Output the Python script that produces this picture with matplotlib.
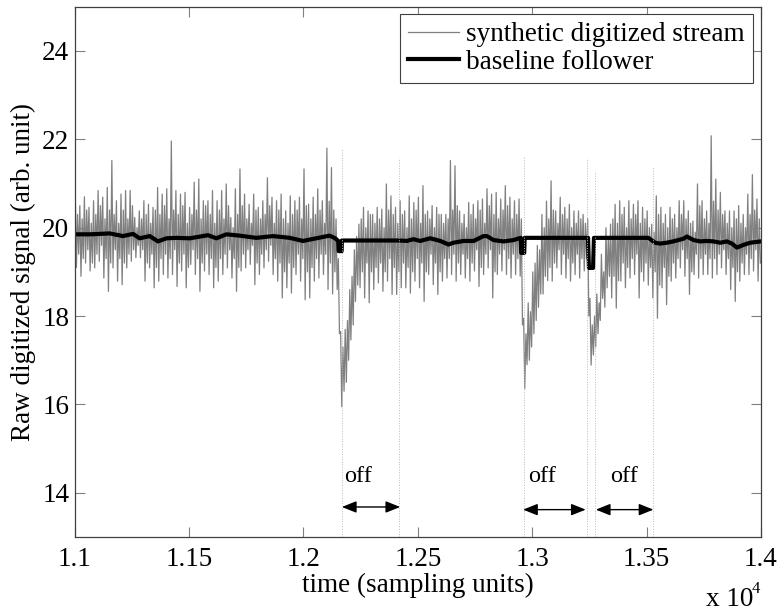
import matplotlib
matplotlib.use('Agg')
import matplotlib.pyplot as plt
import numpy as np

# sampled stream, read per 20-sample block from t=11000:
# block extremes (hi, lo) and the next-largest swings (hi2, lo2)
bin_start = 11000
bin_width = 20
stream_hi = [20.8, 20.5, 20.7, 20.46, 20.61, 20.84, 20.69, 20.91, 21.52, 20.61,
             20.76, 20.84, 20.84, 20.23, 20.38, 20.61, 20.53, 20.46, 20.91, 20.76,
             20.88, 21.96, 20.84, 20.76, 20.8, 20.46, 21.03, 21.1, 20.61, 20.61,
             20.84, 20.61, 20.84, 20.99, 20.23, 20.88, 21.33, 20.76, 20.53, 20.76,
             20.46, 20.61, 21.13, 20.69, 20.61, 20.76, 20.38, 20.72, 20.61, 20.69,
             21.33, 20.53, 20.69, 20.88, 20.61, 21.8, 21.36, 20.2, 17.65, 17.7,
             18.6, 19.5, 20.08, 20.46, 20.38, 20.3, 20.46, 20.42, 20.99, 20.72,
             20.46, 20.61, 20.38, 20.72, 20.57, 20.69, 20.95, 20.38, 20.5, 20.46,
             20.3, 20.3, 21.52, 21.4, 20.38, 20.3, 20.57, 20.53, 20.61, 20.65,
             20.88, 20.76, 20.8, 20.65, 20.95, 20.69, 20.61, 20.65, 17.95, 18.3,
             19.0, 19.6, 20.3, 20.6, 21.06, 20.38, 20.69, 20.46, 20.53, 20.38,
             20.38, 20.3, 20.2, 17.8, 18.5, 19.4, 20.0, 20.08, 20.53, 20.61,
             20.46, 20.61, 20.53, 20.61, 20.46, 20.38, 20.08, 20.72, 20.46, 20.3,
             20.46, 20.3, 20.61, 20.61, 20.38, 20.15, 20.99, 20.61, 20.38, 22.08,
             21.1, 20.8, 20.38, 20.38, 20.38, 20.5, 20.3, 20.76, 21.2, 20.65]
stream_lo = [19.1, 18.9, 19.2, 19.02, 19.09, 19.24, 18.86, 18.56, 19.09, 18.79,
             18.71, 19.09, 19.24, 19.32, 19.32, 18.79, 19.09, 18.64, 18.79, 18.94,
             18.86, 18.94, 18.67, 19.02, 18.64, 19.17, 18.94, 18.56, 19.02, 18.94,
             18.64, 18.79, 18.94, 19.09, 18.86, 18.56, 19.02, 19.09, 19.17, 18.71,
             18.94, 19.09, 19.24, 18.94, 18.79, 18.41, 18.64, 18.52, 18.94, 18.79,
             18.37, 18.41, 18.79, 18.86, 18.94, 18.6, 18.5, 18.6, 15.95, 16.5,
             17.46, 18.33, 18.64, 18.41, 18.3, 18.6, 18.75, 18.56, 18.79, 18.49,
             18.49, 18.64, 18.64, 18.52, 18.79, 18.64, 18.33, 18.94, 18.71, 18.49,
             18.79, 18.86, 18.94, 18.79, 18.94, 18.86, 18.79, 19.02, 18.67, 18.94,
             19.09, 18.41, 18.94, 19.02, 18.94, 18.86, 18.94, 18.9, 16.36, 17.0,
             17.6, 18.2, 18.5, 18.8, 18.79, 19.09, 18.94, 18.86, 18.79, 18.94,
             18.86, 19.02, 18.0, 17.12, 17.6, 18.4, 18.64, 18.41, 18.18, 18.79,
             18.64, 18.86, 18.94, 18.41, 18.79, 18.7, 18.41, 17.95, 18.64, 18.26,
             18.79, 18.86, 19.09, 18.9, 18.49, 18.94, 18.86, 18.94, 18.94, 18.86,
             18.94, 19.09, 18.94, 18.6, 18.33, 18.79, 18.94, 18.94, 19.02, 18.79]
stream_hi2 = [20.3, 20.2, 20.4, 20.1, 20.3, 20.5, 20.2, 20.4, 20.3, 20.1,
              20.4, 20.2, 20.5, 20.0, 20.2, 20.3, 20.1, 20.4, 20.3, 20.5,
              20.2, 20.4, 20.3, 20.5, 20.1, 20.3, 20.4, 20.2, 20.5, 20.3,
              20.1, 20.4, 20.2, 20.5, 20.0, 20.3, 20.5, 20.2, 20.1, 20.4,
              20.2, 20.3, 20.5, 20.1, 20.4, 20.2, 20.1, 20.3, 20.4, 20.2,
              20.5, 20.2, 20.3, 20.4, 20.1, 20.6, 20.4, 19.3, 17.3, 17.9,
              18.9, 19.8, 20.2, 20.0, 20.3, 20.1, 20.2, 20.0, 20.4, 20.3,
              20.1, 20.3, 20.0, 20.2, 20.4, 20.1, 20.3, 20.2, 20.0, 20.3,
              20.1, 20.2, 20.4, 20.5, 20.1, 20.0, 20.3, 20.2, 20.4, 20.1,
              20.5, 20.3, 20.2, 20.4, 20.5, 20.2, 20.3, 20.2, 17.6, 18.1,
              19.2, 19.5, 20.0, 20.2, 20.4, 20.1, 20.3, 20.2, 20.0, 20.1,
              20.2, 20.1, 18.4, 18.0, 18.3, 19.0, 19.8, 20.2, 20.1, 20.3,
              20.0, 20.2, 20.3, 20.1, 20.2, 20.0, 19.9, 20.3, 20.1, 20.0,
              20.2, 20.0, 20.3, 20.2, 20.1, 19.9, 20.5, 20.2, 20.1, 20.6,
              20.4, 20.3, 20.1, 20.0, 20.2, 20.1, 20.0, 20.3, 20.4, 20.2]
stream_lo2 = [19.4, 19.3, 19.5, 19.2, 19.4, 19.6, 19.3, 19.2, 19.5, 19.3,
              19.2, 19.4, 19.5, 19.6, 19.5, 19.2, 19.4, 19.1, 19.3, 19.4,
              19.3, 19.5, 19.2, 19.4, 19.1, 19.5, 19.3, 19.2, 19.4, 19.3,
              19.1, 19.3, 19.4, 19.5, 19.3, 19.1, 19.4, 19.5, 19.6, 19.2,
              19.4, 19.5, 19.6, 19.3, 19.2, 19.0, 19.2, 19.1, 19.4, 19.3,
              19.0, 19.1, 19.3, 19.4, 19.4, 19.2, 19.0, 17.6, 16.3, 17.0,
              17.8, 18.7, 19.0, 19.2, 19.0, 19.1, 19.2, 19.0, 19.3, 19.1,
              19.0, 19.2, 19.1, 19.0, 19.3, 19.2, 19.0, 19.4, 19.2, 19.0,
              19.3, 19.3, 19.4, 19.2, 19.4, 19.3, 19.2, 19.5, 19.1, 19.4,
              19.5, 19.0, 19.4, 19.5, 19.3, 19.4, 19.3, 17.8, 16.9, 17.3,
              17.9, 18.5, 18.9, 19.1, 19.2, 19.5, 19.4, 19.3, 19.2, 19.4,
              19.3, 19.3, 16.89, 17.3, 17.9, 18.2, 18.9, 18.9, 18.8, 19.2,
              19.1, 19.3, 19.4, 19.0, 19.2, 19.1, 19.0, 18.7, 19.1, 18.9,
              19.2, 19.3, 19.5, 19.3, 19.0, 19.4, 19.3, 19.4, 19.3, 19.3,
              19.4, 19.5, 19.3, 19.1, 19.0, 19.2, 19.4, 19.3, 19.5, 19.2]

base_t = [11000, 11067, 11153, 11211, 11255, 11284, 11328, 11364, 11401, 11444,
          11503, 11583, 11619, 11663, 11721, 11794, 11867, 11940, 11998, 12056,
          12114, 12139, 12152, 12154, 12167, 12168, 12418, 12452, 12481, 12510,
          12554, 12598, 12634, 12656, 12700, 12744, 12787, 12802, 12831, 12875,
          12918, 12950, 12952, 12965, 12967, 13244, 13248, 13266, 13270, 13508,
          13537, 13559, 13588, 13617, 13661, 13676, 13705, 13734, 13763, 13792,
          13822, 13851, 13873, 13895, 13923, 13953, 14000]
base_v = [19.85, 19.85, 19.87, 19.81, 19.86, 19.76, 19.81, 19.69, 19.76, 19.77,
          19.76, 19.83, 19.76, 19.85, 19.82, 19.77, 19.81, 19.77, 19.70, 19.76,
          19.82, 19.76, 19.70, 19.47, 19.47, 19.71, 19.71, 19.70, 19.74, 19.70,
          19.76, 19.70, 19.62, 19.66, 19.70, 19.70, 19.81, 19.81, 19.72, 19.69,
          19.72, 19.77, 19.43, 19.43, 19.77, 19.77, 19.09, 19.09, 19.77, 19.77,
          19.66, 19.64, 19.66, 19.69, 19.75, 19.80, 19.72, 19.69, 19.70, 19.69,
          19.66, 19.69, 19.64, 19.55, 19.61, 19.66, 19.69]

# dotted markers and "off" intervals
mark_t = [12168, 12418, 12965, 13241, 13276, 13526]
mark_top = [21.77, 21.58, 21.63, 21.58, 21.29, 21.38]
off_start = [12168, 12960, 13278]
off_end = [12423, 13234, 13530]
off_y = [13.68, 13.62, 13.62]
off_text_t = [12177, 12982, 13341]
off_text_y = [14.36, 14.36, 14.36]

plt.rcParams['font.family'] = ['Liberation Serif', 'DejaVu Serif']
plt.rcParams['font.size'] = 19.5

fig = plt.figure(figsize=(7.82, 6.12), dpi=100)
ax = fig.add_axes([0.0955, 0.1225, 0.8776, 0.8665])

# four samples per block: hi, lo, hi2, lo2
k = np.arange(len(stream_hi))
ts = (bin_start + bin_width * k[:, None] + np.array([2.5, 7.5, 12.5, 17.5])).ravel()
vs = np.column_stack([stream_hi, stream_lo, stream_hi2, stream_lo2]).ravel()
ax.plot(ts, vs, color='#808080', lw=0.9, label='synthetic digitized stream')
ax.plot(base_t, base_v, color='black', lw=3.0, label='baseline follower')

for t, top in zip(mark_t, mark_top):
    ax.plot([t, t], [13, top], color='#b8b8b8', lw=0.7, ls=':')

for a, b, y in zip(off_start, off_end, off_y):
    ax.annotate('', xy=(b, y), xytext=(a, y),
                arrowprops=dict(arrowstyle='<|-|>,head_length=0.55,head_width=0.22',
                                color='black', lw=1.0,
                                mutation_scale=16, shrinkA=0, shrinkB=0))
for t, y in zip(off_text_t, off_text_y):
    ax.text(t, y, 'off', ha='left', va='center', fontsize=17.5)

ax.set_xlim(11000, 14000)
ax.set_ylim(13, 25)
ax.set_xticks(np.arange(11000, 14001, 500))
ax.set_xticklabels(['1.1', '1.15', '1.2', '1.25', '1.3', '1.35', '1.4'])
ax.set_yticks([14, 16, 18, 20, 22, 24])
ax.tick_params(direction='in', length=7, width=0.8, color='#808080',
               top=True, right=True, labelsize=19.5)
ax.tick_params(axis='y', pad=4)
ax.tick_params(axis='x', pad=7)
for s in ax.spines.values():
    s.set_color('#404040')
    s.set_linewidth(0.9)

ax.set_xlabel('time (sampling units)', fontsize=19.5, labelpad=1)
ax.set_ylabel('Raw digitized signal (arb. unit)', fontsize=19.5, labelpad=4)

fig.text(706 / 782, 1 - 600 / 612, 'x 10', fontsize=19.5, ha='left', va='center')
fig.text(752 / 782, 1 - 589 / 612, '4', fontsize=12, ha='left', va='center')

leg = ax.legend(loc='upper right', bbox_to_anchor=(0.9883, 0.9862), borderaxespad=0,
                fancybox=False, edgecolor='#404040', framealpha=1, fontsize=19.5,
                handlelength=1.9, handletextpad=0.25, labelspacing=0.1,
                borderpad=0.3)
leg.get_frame().set_linewidth(0.8)

fig.savefig('out.png', dpi=100)
